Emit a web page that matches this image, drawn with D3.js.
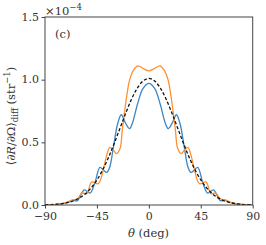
<!DOCTYPE html>
<html><head><meta charset="utf-8">
<script src="https://cdn.jsdelivr.net/npm/d3@7"></script>
<style>
html,body{margin:0;padding:0;background:#fff;}
</style></head>
<body>
<svg id="c" width="266" height="245"></svg>
<script>
// values in units of 1e-4 str^-1
const xTicks = [-90, -45, 0, 45, 90];
const xTickLabels = ["\u221290", "\u221245", "0", "45", "90"];
const yTicks = [0, 0.5, 1.0, 1.5];
const yTickLabels = ["0.0", "0.5", "1.0", "1.5"];

const thetaBlack = [-90,-85,-80,-75,-70,-65,-60,-55,-50,-45,-40,-35,-30,-25,-20,-15,-10,-5,0,5,10,15,20,25,30,35,40,45,50,55,60,65,70,75,80,85,90];
const valuesBlack = [0.002,0.003,0.006,0.011,0.020,0.034,0.057,0.090,0.137,0.200,0.281,0.379,0.492,0.613,0.733,0.844,0.932,0.99,1.01,0.99,0.932,0.844,0.733,0.613,0.492,0.379,0.281,0.200,0.137,0.090,0.057,0.034,0.020,0.011,0.006,0.003,0.002];

const thetaBlue = [-90,-80,-75,-70,-66,-62,-56,-51,-46.7,-42.4,-39.5,-36.6,-34,-30.9,-27,-23.9,-20,-16.7,-14,-10,-5,0,5,10,14,16.7,20,23.9,27,30.9,34,36.6,39.5,42.4,46.7,51,56,62,66,70,75,80,90];
const valuesBlue = [0,0.005,0.01,0.02,0.038,0.035,0.12,0.095,0.18,0.30,0.28,0.26,0.30,0.45,0.65,0.72,0.65,0.61,0.66,0.80,0.93,0.97,0.93,0.80,0.66,0.61,0.65,0.72,0.65,0.45,0.30,0.26,0.28,0.30,0.18,0.095,0.12,0.035,0.038,0.02,0.01,0.005,0];

const thetaOrange = [-90,-80,-75,-70,-66,-62,-58,-53.8,-49.5,-43.8,-39.5,-37,-33.8,-31,-28,-25,-23,-20.8,-19,-16.6,-13,-9.5,-5,0,5,9.5,13,16.6,19,20.8,23,25,28,31,33.8,37,39.5,43.8,49.5,53.8,58,62,66,70,75,80,90];
const valuesOrange = [0,0.005,0.012,0.025,0.04,0.05,0.095,0.09,0.184,0.17,0.28,0.38,0.46,0.44,0.41,0.45,0.6,0.76,0.88,1.0,1.08,1.11,1.09,1.07,1.09,1.11,1.08,1.0,0.88,0.76,0.6,0.45,0.41,0.44,0.46,0.38,0.28,0.17,0.184,0.09,0.095,0.05,0.04,0.025,0.012,0.005,0];

const FONT = "'DejaVu Serif',serif";
const FS = "11.5px", FSS = "8.5px";
const svg = d3.select("#c");
const L = 45, R = 252.7, T = 17, B = 205;
const x = d3.scaleLinear().domain([-90, 90]).range([L, R]);
const y = d3.scaleLinear().domain([0, 1.5]).range([B, T]);

svg.append("clipPath").attr("id","cp").append("rect")
  .attr("x", L).attr("y", T).attr("width", R-L).attr("height", B-T);

const line = d3.line().x(d => x(d[0])).y(d => y(d[1])).curve(d3.curveCatmullRom.alpha(0.5));
const g = svg.append("g").attr("clip-path","url(#cp)");
g.append("path").datum(d3.zip(thetaBlue, valuesBlue)).attr("d", line)
  .attr("fill","none").attr("stroke","#3a87c4").attr("stroke-width",1.3);
g.append("path").datum(d3.zip(thetaOrange, valuesOrange)).attr("d", line)
  .attr("fill","none").attr("stroke","#ff9030").attr("stroke-width",1.3);
g.append("path").datum(d3.zip(thetaBlack, valuesBlack)).attr("d", line)
  .attr("fill","none").attr("stroke","#111").attr("stroke-width",1.3).attr("stroke-dasharray","3.2,2");

svg.append("rect").attr("x", L).attr("y", T).attr("width", R-L).attr("height", B-T)
  .attr("fill","none").attr("stroke","#444").attr("stroke-width",1);

const xa = svg.append("g").attr("transform", `translate(0,${B})`)
  .call(d3.axisBottom(x).tickValues(xTicks).tickFormat((d,i)=>xTickLabels[i]).tickSize(3.5).tickPadding(3.5));
const ya = svg.append("g").attr("transform", `translate(${L},0)`)
  .call(d3.axisLeft(y).tickValues(yTicks).tickFormat((d,i)=>yTickLabels[i]).tickSize(3.5).tickPadding(2.5));
[xa, ya].forEach(a => {
  a.attr("font-family", null).attr("font-size", null);
  a.select(".domain").remove();
  a.selectAll(".tick line").attr("stroke","#444");
  a.selectAll(".tick text").style("font-family", FONT).style("font-size", "11px").attr("fill","#333");
});
ya.selectAll(".tick text").attr("dy", "0.3em");

function T_(sel){ return sel.style("font-family", FONT).attr("fill","#333"); }

const sf = T_(svg.append("text").attr("x", 45).attr("y", 15).style("font-size", FS));
sf.append("tspan").text("\u00d710");
sf.append("tspan").attr("dy", -5).style("font-size", FSS).text("\u22124");

T_(svg.append("text").attr("x", 55).attr("y", 38).style("font-size", FS).text("(c)"));

const xl = T_(svg.append("text").attr("x", 148.5).attr("y", 237).attr("text-anchor","middle").style("font-size", FS));
xl.append("tspan").style("font-style","italic").text("\u03b8");
xl.append("tspan").text(" (deg)");

const yl = T_(svg.append("text").attr("transform","translate(15,116) rotate(-90)").attr("text-anchor","middle").style("font-size", FS));
yl.append("tspan").text("\u27e8\u2202");
yl.append("tspan").style("font-style","italic").text("R");
yl.append("tspan").text("/\u2202\u03a9\u27e9");
yl.append("tspan").attr("dy", 3).style("font-size", FSS).text("diff");
yl.append("tspan").attr("dy", -3).text(" (str");
yl.append("tspan").attr("dy", -5).style("font-size", FSS).text("\u22121");
yl.append("tspan").attr("dy", 5).text(")");
</script>
</body></html>
